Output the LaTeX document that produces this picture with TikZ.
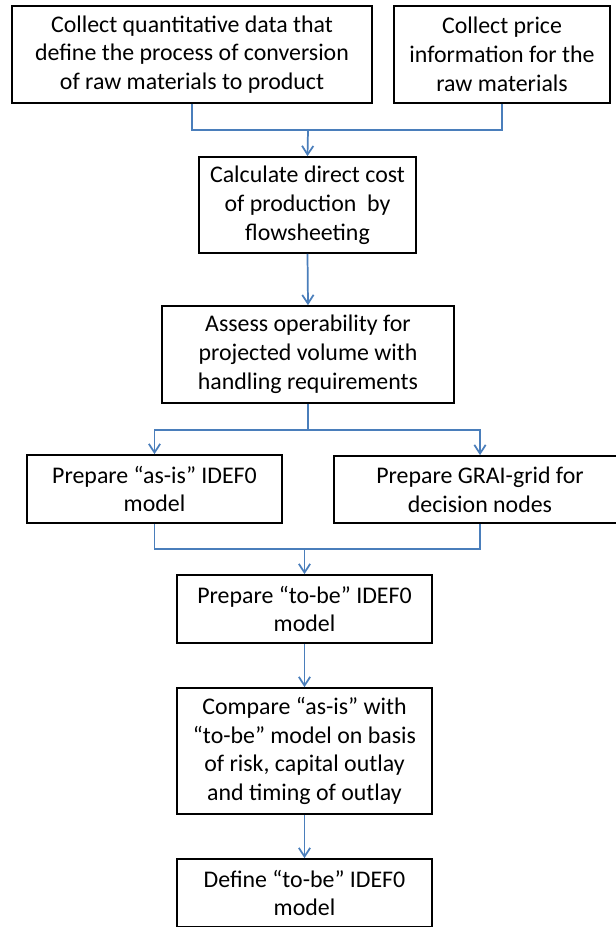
\documentclass[tikz,border=0pt]{standalone}
\usepackage{fontspec}
\setmainfont{Carlito}
\usetikzlibrary{arrows.meta}
\definecolor{flowblue}{HTML}{4A7EBB}
\begin{document}
\begin{tikzpicture}[x=0.75pt,y=-0.75pt,
  stepbox/.style={draw=black,line width=1.3pt,fill=white,align=center,
    inner sep=0pt,font=\fontsize{17.9}{21.6}\selectfont},
  link/.style={draw=flowblue,line width=1.3pt},
  flow/.style={link,-{Straight Barb[length=6.5pt,width=8.5pt]}}]
\useasboundingbox[fill=white] (0,0) rectangle (616,927);
% process steps
\node[stepbox,minimum width=270pt,minimum height=72.75pt] (b1) at (192,54.5)
  {Collect quantitative data that\\define the process of conversion\\of raw materials to product};
\node[stepbox,minimum width=162pt,minimum height=72.75pt] (b2) at (502,54.5)
  {Collect price\\information for the\\raw materials};
\node[stepbox,minimum width=162.75pt,minimum height=72pt] (b3) at (307.5,205)
  {Calculate direct cost\\of production\ \ by\\flowsheeting};
\node[stepbox,minimum width=219pt,minimum height=72.75pt] (b4) at (308,354.5)
  {Assess operability for\\projected volume with\\handling requirements};
\node[stepbox,minimum width=191.25pt,minimum height=51pt] (b5) at (154.5,489)
  {Prepare “as-is” IDEF0\\model};
\node[stepbox,minimum width=219pt,minimum height=50.25pt] (b6) at (480,489.5)
  {Prepare GRAI-grid for\\decision nodes};
\node[stepbox,minimum width=191.25pt,minimum height=51pt] (b7) at (304.5,609)
  {Prepare “to-be” IDEF0\\model};
\node[stepbox,minimum width=191.25pt,minimum height=94.5pt] (b8) at (304.5,751)
  {Compare “as-is” with\\“to-be” model on basis\\of risk, capital outlay\\and timing of outlay};
\node[stepbox,minimum width=191.25pt,minimum height=51pt] (b9) at (304.5,893)
  {Define “to-be” IDEF0\\model};
% junction points
\coordinate (j1) at (308,130);
\coordinate (j2) at (308,430);
\coordinate (j3) at (304.5,549);
% connectors
\draw[link] (b1.south) |- (j1) -| (b2.south);
\draw[flow] (j1) -- (b3.north);
\draw[flow] (b3.south) -- (b4.north);
\draw[link] (b4.south) -- (j2);
\draw[flow] (j2) -| (b5.north);
\draw[flow] (j2) -| (b6.north);
\draw[link] (b5.south) |- (j3);
\draw[link] (b6.south) |- (j3);
\draw[flow] (j3) -- (b7.north);
\draw[flow] (b7.south) -- (b8.north);
\draw[flow] (b8.south) -- (b9.north);
\end{tikzpicture}
\end{document}
